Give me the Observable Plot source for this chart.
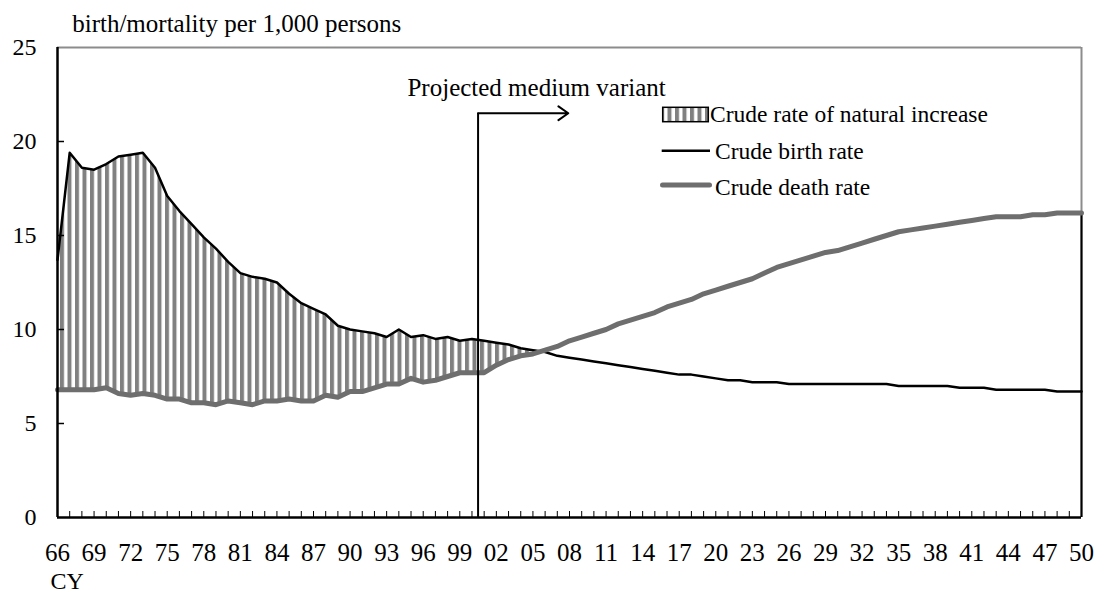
<!DOCTYPE html>
<html>
<head>
<meta charset="utf-8">
<script src="https://cdn.jsdelivr.net/npm/d3@7"></script>
<script src="https://cdn.jsdelivr.net/npm/@observablehq/plot@0.6"></script>
<style>
  body { margin: 0; background: #fff; }
  #wrap { position: relative; width: 1095px; height: 594px; font-family: "Liberation Serif", "Times New Roman", serif; }
  #wrap svg { position: absolute; left: 0; top: 0; }
</style>
</head>
<body>
<div id="wrap"></div>
<script>
// ---------- data ----------
const firstYear = 1966;
const birthRate = [
  13.7, 19.4, 18.6, 18.5, 18.8, 19.2, 19.3, 19.4, 18.6, 17.1,
  16.3, 15.6, 14.9, 14.3, 13.6, 13.0, 12.8, 12.7, 12.5, 11.9,
  11.4, 11.1, 10.8, 10.2, 10.0, 9.9, 9.8, 9.6, 10.0, 9.6,
  9.7, 9.5, 9.6, 9.4, 9.5, 9.4, 9.3, 9.2, 9.0, 8.9,
  8.8, 8.6, 8.5, 8.4, 8.3, 8.2, 8.1, 8.0, 7.9, 7.8,
  7.7, 7.6, 7.6, 7.5, 7.4, 7.3, 7.3, 7.2, 7.2, 7.2,
  7.1, 7.1, 7.1, 7.1, 7.1, 7.1, 7.1, 7.1, 7.1, 7.0,
  7.0, 7.0, 7.0, 7.0, 6.9, 6.9, 6.9, 6.8, 6.8, 6.8,
  6.8, 6.8, 6.7, 6.7, 6.7
];
const deathRate = [
  6.8, 6.8, 6.8, 6.8, 6.9, 6.6, 6.5, 6.6, 6.5, 6.3,
  6.3, 6.1, 6.1, 6.0, 6.2, 6.1, 6.0, 6.2, 6.2, 6.3,
  6.2, 6.2, 6.5, 6.4, 6.7, 6.7, 6.9, 7.1, 7.1, 7.4,
  7.2, 7.3, 7.5, 7.7, 7.7, 7.7, 8.1, 8.4, 8.6, 8.7,
  8.9, 9.1, 9.4, 9.6, 9.8, 10.0, 10.3, 10.5, 10.7, 10.9,
  11.2, 11.4, 11.6, 11.9, 12.1, 12.3, 12.5, 12.7, 13.0, 13.3,
  13.5, 13.7, 13.9, 14.1, 14.2, 14.4, 14.6, 14.8, 15.0, 15.2,
  15.3, 15.4, 15.5, 15.6, 15.7, 15.8, 15.9, 16.0, 16.0, 16.0,
  16.1, 16.1, 16.2, 16.2, 16.2
];
const xTickLabels = ["66","69","72","75","78","81","84","87","90","93","96","99",
  "02","05","08","11","14","17","20","23","26","29","32","35","38","41","44","47","50"];
const yTicks = [0, 5, 10, 15, 20, 25];
const seriesNames = ["Crude rate of natural increase", "Crude birth rate", "Crude death rate"];
const yTitle = "birth/mortality per 1,000 persons";
const xTitle = "CY";
const annotationText = "Projected medium variant";
const projectionStart = 2000.5;
const arrowEnd = 2007.9;
const arrowLevel = 21.5;
const annotationX = 2005.3;
const annotationLevel = 22.85;

// ---------- derived tables ----------
const years = birthRate.map((_, i) => firstYear + i);
const lastYear = years[years.length - 1];
const rows = years.map((year, i) => ({year, birth: birthRate[i], death: deathRate[i]}));
const xTickYears = xTickLabels.map((_, i) => firstYear + 3 * i);

// ---------- layout / style ----------
const W = 1095, H = 594, ML = 57, MR = 14, MT = 47, MB = 77;
const frameW = W - ML - MR, frameH = H - MT - MB;
const DEATH = "#6e6e6e", HATCH = "#808080", FRAME_GRAY = "#8c8c8c";
const FONT = "'Liberation Serif', 'Times New Roman', serif";

function hatchDefs(id) {
  return () => {
    const d = d3.create("svg:defs");
    const p = d.append("pattern").attr("id", id).attr("patternUnits", "userSpaceOnUse")
      .attr("width", 7.5).attr("height", 10);
    p.append("rect").attr("width", 7.5).attr("height", 10).attr("fill", "#fff");
    p.append("rect").attr("width", 4).attr("height", 10).attr("fill", HATCH);
    return d.node();
  };
}

const chart = Plot.plot({
  width: W, height: H,
  marginLeft: ML, marginRight: MR, marginTop: MT, marginBottom: MB,
  x: {domain: [firstYear, lastYear], axis: null},
  y: {domain: [0, 25], axis: null},
  style: {fontFamily: FONT, background: "#fff", color: "#000", overflow: "visible"},
  marks: [
    hatchDefs("hatch"),
    Plot.areaY(rows, {x: "year", y1: "death", y2: d => Math.max(d.birth, d.death), fill: "url(#hatch)"}),
    Plot.ruleY([25], {stroke: FRAME_GRAY, strokeWidth: 2}),
    Plot.ruleX([lastYear], {stroke: FRAME_GRAY, strokeWidth: 2}),
    Plot.ruleX(rows.slice(-1), {x: "year", y1: 0, y2: "death", stroke: "#000", strokeWidth: 2}),
    Plot.line(rows, {x: "year", y: "birth", stroke: "#000", strokeWidth: 2.5}),
    Plot.line(rows, {x: "year", y: "death", stroke: DEATH, strokeWidth: 5}),
    // projection marker
    Plot.ruleX([projectionStart], {y1: 0, y2: arrowLevel, stroke: "#000", strokeWidth: 2}),
    Plot.arrow([{x1: projectionStart, x2: arrowEnd, y: arrowLevel}],
      {x1: "x1", x2: "x2", y1: "y", y2: "y", stroke: "#000", strokeWidth: 2, headLength: 9, headAngle: 70}),
    Plot.text([annotationText], {x: annotationX, y: annotationLevel, text: d => d, fontSize: 25, fill: "#000"}),
    // axes
    Plot.tickY(yTicks.filter(v => v > 0 && v < 25), {y: d => d, insetRight: frameW - 7, stroke: "#000", strokeWidth: 1.5}),
    Plot.tickX(years.filter(y => y > firstYear && y < lastYear), {x: d => d, insetTop: frameH - 6, stroke: "#000", strokeWidth: 1}),
    Plot.ruleX([firstYear], {stroke: "#000", strokeWidth: 2.5}),
    Plot.ruleY([0], {stroke: "#000", strokeWidth: 2.5}),
    Plot.text(yTicks, {y: d => d, text: d => String(d), frameAnchor: "left", textAnchor: "end", dx: -21, fontSize: 24, fill: "#000"}),
    Plot.text(xTickYears, {x: d => d, text: (d, i) => xTickLabels[i], frameAnchor: "bottom", lineAnchor: "middle", dy: 35, fontSize: 25, fill: "#000"}),
    Plot.text([yTitle], {frameAnchor: "top-left", textAnchor: "start", lineAnchor: "bottom", dx: 14.7, dy: -15.3, text: d => d, fontSize: 25, fill: "#000"}),
    Plot.text([xTitle], {frameAnchor: "bottom-left", textAnchor: "start", lineAnchor: "bottom", dx: -7, dy: 71, text: d => d, fontSize: 24, fill: "#000"})
  ]
});
document.getElementById("wrap").appendChild(chart);

// ---------- legend (overlay) ----------
const leg = d3.create("svg").attr("width", W).attr("height", H)
  .style("pointer-events", "none").style("font-family", FONT);
const ld = leg.append("defs").append("pattern").attr("id", "hatchLegend").attr("patternUnits", "userSpaceOnUse")
  .attr("width", 7.5).attr("height", 10);
ld.append("rect").attr("width", 7.5).attr("height", 10).attr("fill", "#fff");
ld.append("rect").attr("width", 4).attr("height", 10).attr("fill", HATCH);
leg.append("rect").attr("x", 662.7).attr("y", 107.3).attr("width", 45.6).attr("height", 14.4)
  .attr("fill", "url(#hatchLegend)").attr("stroke", "#000").attr("stroke-width", 1.5);
leg.append("text").attr("x", 710).attr("y", 122.3).attr("font-size", 23.5).text(seriesNames[0]);
leg.append("line").attr("x1", 661.7).attr("x2", 710).attr("y1", 150.7).attr("y2", 150.7)
  .attr("stroke", "#000").attr("stroke-width", 2.5);
leg.append("text").attr("x", 715).attr("y", 159.3).attr("font-size", 23.5).text(seriesNames[1]);
leg.append("line").attr("x1", 662.5).attr("x2", 709.5).attr("y1", 185).attr("y2", 185)
  .attr("stroke", DEATH).attr("stroke-width", 5).attr("stroke-linecap", "round");
leg.append("text").attr("x", 715).attr("y", 195).attr("font-size", 23.5).text(seriesNames[2]);
document.getElementById("wrap").appendChild(leg.node());
</script>
</body>
</html>
